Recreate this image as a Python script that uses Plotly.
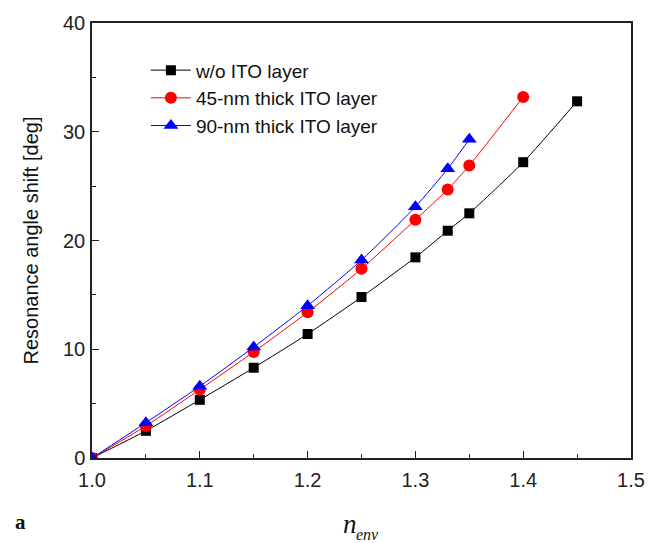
import plotly.graph_objects as go

n_black = [1.0, 1.05, 1.1, 1.15, 1.2, 1.25, 1.3, 1.33, 1.35, 1.4, 1.45]
shift_black = [0.0, 2.5, 5.35, 8.3, 11.4, 14.8, 18.45, 20.9, 22.5, 27.2, 32.8]

n_red = [1.0, 1.05, 1.1, 1.15, 1.2, 1.25, 1.3, 1.33, 1.35, 1.4]
shift_red = [0.0, 2.95, 6.3, 9.75, 13.4, 17.4, 21.9, 24.7, 26.9, 33.2]

n_blue = [1.0, 1.05, 1.1, 1.15, 1.2, 1.25, 1.3, 1.33, 1.35]
shift_blue = [0.0, 3.25, 6.6, 10.2, 14.0, 18.2, 23.1, 26.6, 29.3]

names = ["w/o ITO layer", "45-nm thick ITO layer", "90-nm thick ITO layer"]

fig = go.Figure()
fig.add_trace(go.Scatter(x=n_black, y=shift_black, name=names[0], mode="lines+markers",
                         line=dict(color="#000000", width=1, shape="spline", smoothing=0.6),
                         marker=dict(symbol="square", size=10, color="#000000")))
fig.add_trace(go.Scatter(x=n_red, y=shift_red, name=names[1], mode="lines+markers",
                         line=dict(color="#ff0000", width=1, shape="spline", smoothing=0.6),
                         marker=dict(symbol="circle", size=12, color="#ff0000")))
fig.add_trace(go.Scatter(x=n_blue, y=shift_blue, name=names[2], mode="lines+markers",
                         line=dict(color="#0000ff", width=1, shape="spline", smoothing=0.6),
                         marker=dict(symbol="triangle-up", size=13, color="#0000ff")))

axis_common = dict(showgrid=False, zeroline=False, showline=True, linecolor="#222222",
                   linewidth=1.5, mirror=True, ticks="inside", ticklen=7, tickwidth=1.2,
                   tickcolor="#222222",
                   tickfont=dict(family="Liberation Sans, Arial", size=20, color="#222222"))

fig.update_xaxes(range=[1.0, 1.5], dtick=0.1, tickformat=".1f", ticklabelstandoff=3,
                 minor=dict(dtick=0.05, ticks="inside", ticklen=4, tickwidth=1.2, tickcolor="#222222"),
                 **axis_common)
fig.update_yaxes(range=[0, 40], dtick=10, ticklabelstandoff=1,
                 minor=dict(dtick=5, ticks="inside", ticklen=4, tickwidth=1.2, tickcolor="#222222"),
                 **axis_common)

fig.update_layout(
    width=659, height=543,
    margin=dict(l=92, r=28, t=19, b=85),
    paper_bgcolor="white", plot_bgcolor="white",
    showlegend=True,
    legend=dict(x=0.1, y=0.935, xanchor="left", yanchor="top",
                bgcolor="rgba(0,0,0,0)", borderwidth=0, tracegroupgap=0,
                font=dict(family="Liberation Sans, Arial", size=19, color="#111111"),
                itemwidth=40),
    annotations=[
        dict(text="Resonance angle shift [deg]", xref="paper", yref="paper", x=0, y=0.5,
             xshift=-62, textangle=-90, showarrow=False, xanchor="center", yanchor="middle",
             font=dict(family="Liberation Sans, Arial", size=20, color="#111111")),
        dict(text="<i>n</i>", xref="paper", yref="paper", x=(350 - 92) / 539, y=0,
             yshift=-66, showarrow=False, xanchor="center", yanchor="middle",
             font=dict(family="Liberation Serif, Times New Roman", size=27, color="#111111")),
        dict(text="<i>env</i>", xref="paper", yref="paper", x=(367 - 92) / 539, y=0,
             yshift=-76, showarrow=False, xanchor="center", yanchor="middle",
             font=dict(family="Liberation Serif, Times New Roman", size=16, color="#111111")),
        dict(text="<b>a</b>", xref="paper", yref="paper", x=(20 - 92) / 539, y=0,
             yshift=-64, showarrow=False, xanchor="center", yanchor="middle",
             font=dict(family="Liberation Serif, Times New Roman", size=21, color="#111111")),
    ],
)

fig.write_html("out.html")
